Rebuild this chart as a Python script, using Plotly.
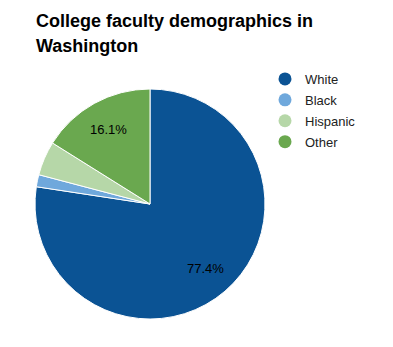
import math
import plotly.graph_objects as go

# Faculty share by group (percent)
groups = ["White", "Black", "Hispanic", "Other"]
shares = [77.4, 1.7, 4.8, 16.1]
colors = ["#0b5394", "#6fa8dc", "#b6d7a8", "#6aa84f"]

W, H = 393, 347

# Pie placement (pixels): centre and radius
CX, CY, R = 150, 204, 115
dom_x = [(CX - R) / W, (CX + R) / W]
dom_y = [(H - CY - R) / H, (H - CY + R) / H]

fig = go.Figure()
fig.add_trace(go.Pie(
    labels=groups,
    values=shares,
    sort=False,
    direction="clockwise",
    rotation=0,
    marker=dict(colors=colors, line=dict(color="white", width=1)),
    textinfo="none",
    hoverinfo="label+percent",
    showlegend=False,
    domain=dict(x=dom_x, y=dom_y),
))

# Percentage labels for the larger slices, placed along each slice's mid-angle
annotations = []
total = sum(shares)
start = 0.0
for v in shares:
    sweep = v / total * 360.0
    mid = math.radians(start + sweep / 2)
    start += sweep
    if v < 10:
        continue
    px = CX + 0.74 * R * math.sin(mid)
    py = CY - 0.74 * R * math.cos(mid)
    annotations.append(dict(
        text=f"{v:.1f}%", x=px / W, y=1 - py / H, xref="paper", yref="paper",
        xanchor="center", yanchor="middle", showarrow=False,
        font=dict(family="Liberation Sans", size=13, color="#000000"),
    ))

# Legend entries with circular markers
for g, c in zip(groups, colors):
    fig.add_trace(go.Scatter(
        x=[None], y=[None], mode="markers", name=g, legendgroup=g,
        marker=dict(symbol="circle", size=13, color=c),
        showlegend=True,
    ))

annotations += [
    dict(text="<b>College faculty demographics in</b>", x=34 / W, y=1 - 9 / H,
         xref="paper", yref="paper", xanchor="left", yanchor="top", showarrow=False,
         font=dict(family="Liberation Sans", size=18, color="#000000")),
    dict(text="<b>Washington</b>", x=34 / W, y=1 - 34 / H,
         xref="paper", yref="paper", xanchor="left", yanchor="top", showarrow=False,
         font=dict(family="Liberation Sans", size=18, color="#000000")),
]

fig.update_layout(
    width=W, height=H,
    margin=dict(l=0, r=0, t=0, b=0),
    paper_bgcolor="white", plot_bgcolor="white",
    xaxis=dict(visible=False), yaxis=dict(visible=False),
    legend=dict(
        x=265 / W, y=1 - 64 / H, xanchor="left", yanchor="top",
        font=dict(family="Liberation Sans", size=13, color="#222222"),
        bgcolor="rgba(0,0,0,0)", itemwidth=30, tracegroupgap=1,
    ),
    annotations=annotations,
)

fig.write_html("out.html")
